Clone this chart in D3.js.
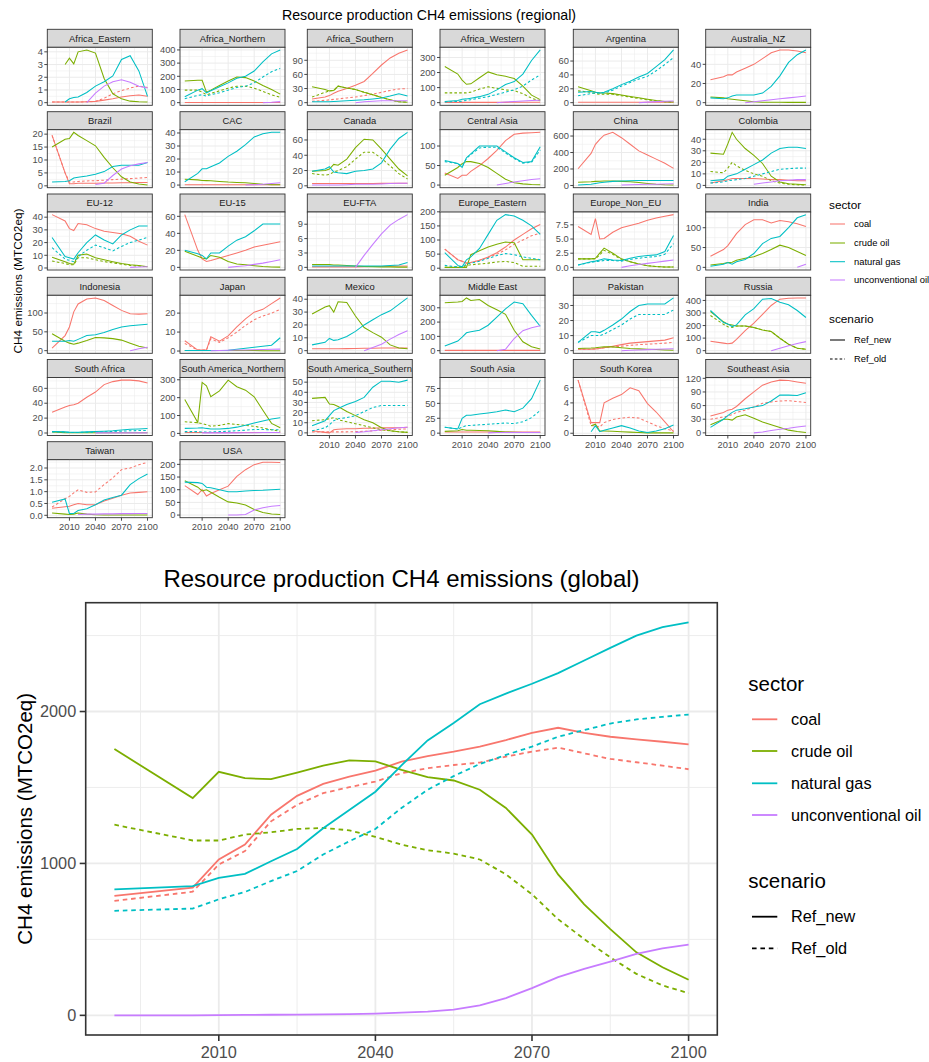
<!DOCTYPE html>
<html>
<head>
<meta charset="utf-8">
<title>Resource production CH4 emissions</title>
<script src="https://cdn.jsdelivr.net/npm/d3@7"></script>
<style>
    body { margin: 0; background: #ffffff; }
    svg { display: block; font-family: "Liberation Sans", Arial, Helvetica, sans-serif; }
</style>
</head>
<body>
<div id="chart-area"></div>
<script>

/*
 *  Data
 */

var years = [1990, 2005, 2010, 2015, 2020, 2025, 2030, 2035, 2040, 2045, 2050,
    2055, 2060, 2065, 2070, 2075, 2080, 2085, 2090, 2095, 2100];
var regionYears = [1990, 2005, 2010, 2015, 2020, 2030, 2040, 2050, 2060, 2070, 2080, 2090, 2100];

var sectors = ["coal", "crude oil", "natural gas", "unconventional oil"];
var scenarios = ["Ref_new", "Ref_old"];

var regions = ["Africa_Eastern", "Africa_Northern", "Africa_Southern", "Africa_Western", "Argentina",
    "Australia_NZ", "Brazil", "CAC", "Canada", "Central Asia", "China", "Colombia", "EU-12", "EU-15",
    "EU-FTA", "Europe_Eastern", "Europe_Non_EU", "India", "Indonesia", "Japan", "Mexico", "Middle East",
    "Pakistan", "Russia", "South Africa", "South America_Northern", "South America_Southern",
    "South Asia", "South Korea", "Southeast Asia", "Taiwan", "USA"];

var xTicks = [2010, 2040, 2070, 2100];
var globalYTicks = [0, 1000, 2000];

// global totals (MTCO2eq)
var globalCoalNew = [786, 841, 1026, 1124, 1321, 1445, 1524, 1572, 1611, 1670, 1707, 1736, 1769, 1812, 1860, 1893, 1860, 1834, 1817, 1801, 1784];
var globalCoalOld = [753, 814, 993, 1081, 1277, 1386, 1463, 1502, 1539, 1594, 1627, 1648, 1664, 1703, 1736, 1762, 1725, 1688, 1666, 1644, 1620];
var globalCrudeNew = [1753, 1430, 1603, 1561, 1555, 1598, 1644, 1679, 1672, 1616, 1568, 1546, 1485, 1365, 1190, 928, 731, 568, 415, 317, 234];
var globalCrudeOld = [1255, 1151, 1151, 1190, 1205, 1227, 1234, 1218, 1175, 1124, 1087, 1065, 1026, 928, 797, 633, 502, 382, 273, 197, 146];
var globalGasNew = [829, 851, 905, 931, 1014, 1095, 1232, 1352, 1472, 1646, 1810, 1925, 2048, 2118, 2183, 2253, 2336, 2419, 2500, 2555, 2587];
var globalGasOld = [688, 703, 764, 812, 884, 950, 1059, 1146, 1227, 1365, 1485, 1575, 1655, 1714, 1769, 1834, 1878, 1921, 1948, 1965, 1980];
var globalUnconvNew = [0, 0, 2, 3, 4, 5, 6, 8, 12, 18, 25, 38, 66, 114, 179, 251, 306, 354, 404, 441, 465];

// regional series, one array per region on regionYears (null = not produced)
var _ = null;

var regionCoalNew = {
    "Africa_Eastern": [0.05, 0.05, 0.05, 0.05, 0.05, 0.07, 0.1, 0.2, 0.3, 0.45, 0.55, 0.6, 0.5],
    "Africa_Northern": [2, 2, 2, 2, 2, 2, 2, 2, 2, 2, 2, 2, 2],
    "Africa_Southern": [8, 12, 15, 20, 24, 30, 37, 45, 62, 80, 95, 105, 112],
    "Africa_Western": [2, 2, 2, 2, 2, 2, 2, 2, 2, 3, 3, 3, 3],
    "Argentina": [0.5, 0.5, 0.5, 0.5, 0.5, 0.5, 0.5, 0.5, 0.5, 0.5, 0.5, 0.5, 0.5],
    "Australia_NZ": [24, 27, 29, 29, 32, 36, 40, 46, 52, 55, 55, 54, 52],
    "Brazil": [19.5, 5, 0.8, 0.8, 1.0, 1.0, 1.0, 1.1, 1.1, 1.2, 1.2, 1.3, 1.3],
    "CAC": [0.2, 0.2, 0.2, 0.2, 0.2, 0.2, 0.2, 0.2, 0.2, 0.2, 0.2, 0.2, 0.2],
    "Canada": [3, 3, 3, 3, 3, 3, 3, 3, 3, 3.2, 3.3, 3.5, 3.5],
    "Central Asia": [31, 17, 25, 25, 35, 50, 68, 89, 114, 130, 133, 134, 135],
    "China": [203, 389, 500, 560, 610, 645, 580, 500, 420, 370, 320, 270, 207],
    "Colombia": [2, 4, 5, 6, 6, 6, 6, 5.5, 5, 5, 4.5, 4, 4],
    "EU-12": [42, 37, 31, 29.5, 35, 34, 31, 29, 28, 27, 25, 21, 18],
    "EU-15": [62, 20, 10, 7, 8, 11, 14, 17, 20, 24, 26, 28, 30],
    "EU-FTA": [0.1, 0.1, 0.1, 0.1, 0.1, 0.1, 0.1, 0.15, 0.2, 0.2, 0.25, 0.3, 0.3],
    "Europe_Eastern": [68, 30, 25, 18, 20, 28, 40, 55, 75, 100, 120, 140, 155],
    "Europe_Non_EU": [7.2, 5.8, 8.6, 5.0, 5.1, 6.2, 7.0, 7.4, 7.8, 8.3, 8.7, 9.0, 9.3],
    "India": [28, 45, 55, 70, 85, 108, 120, 120, 112, 118, 115, 110, 103],
    "Indonesia": [7, 40, 63, 103, 124, 137, 140, 133, 120, 107, 98, 97, 98],
    "Japan": [5.4, 0.5, 0.5, 0.5, 7.5, 5.2, 8, 12.7, 17, 20.5, 22, 25, 28],
    "Mexico": [1.5, 1.5, 1.5, 1.5, 1.5, 1.6, 1.7, 1.8, 1.9, 2, 2, 2, 2],
    "Middle East": [2, 2, 2, 2, 2, 2, 2, 2, 2, 2, 2, 2, 2],
    "Pakistan": [1, 1, 1.2, 1.5, 2, 3, 4, 5, 5.5, 6, 6.5, 7, 8.5],
    "Russia": [75, 60, 55, 60, 90, 160, 220, 290, 360, 410, 418, 420, 420],
    "South Africa": [28, 35, 37, 38, 40, 48, 55, 65, 69, 71, 71, 70, 67],
    "South America_Northern": [5, 5, 5, 5, 5, 5, 5, 5, 5, 5, 5, 5, 5],
    "South America_Southern": [2, 0.5, 0, 3, 3.5, 4, 4, 4.5, 4.5, 5, 5, 5, 5.5],
    "South Asia": [2, 2, 2, 2, 2, 2, 2, 2, 2, 2, 2, 2, 2],
    "South Korea": [7, 1.4, 1.4, 1.4, 4.0, 4.6, 5.1, 6.0, 5.6, 3.9, 2.8, 1.5, 0.2],
    "Southeast Asia": [37, 45, 50, 52, 58, 75, 90, 105, 112, 116, 115, 112, 109],
    "Taiwan": [0.3, 0.36, 0.38, 0.45, 0.5, 0.45, 0.45, 0.6, 0.72, 0.85, 0.94, 0.97, 1.0],
    "USA": [116, 81, 100, 75, 85, 100, 114, 153, 179, 199, 208, 208, 207]
};

var regionCoalOld = {
    "Africa_Eastern": [0.05, 0.05, 0.05, 0.05, 0.05, 0.07, 0.1, 0.35, 0.7, 0.95, 1.15, 1.3, 1.2],
    "Africa_Southern": [3, 5, 6, 7, 8, 10, 12, 15, 18, 22, 26, 29, 30],
    "Brazil": [19.5, 5, 1.5, 1.5, 1.7, 1.9, 2.0, 2.2, 2.4, 2.6, 2.8, 3.0, 3.2],
    "Europe_Eastern": [68, 30, 25, 18, 20, 28, 38, 50, 65, 85, 100, 115, 125],
    "Japan": [4, 0.5, 0.5, 0.5, 6.5, 4.5, 7, 10, 13.5, 16.5, 18.5, 20, 22],
    "Pakistan": [1, 1, 1.2, 1.5, 2, 2.5, 3, 3.5, 4, 4.3, 4.6, 5, 5.5],
    "South America_Southern": [1, 1, 1, 1, 1, 1, 1.2, 1.5, 2, 2.5, 3, 3.5, 4],
    "South Korea": [7, 1.0, 1.0, 0.8, 1.4, 1.8, 2.0, 2.1, 2.0, 1.5, 1.0, 0.6, 0.3],
    "Southeast Asia": [30, 35, 37, 40, 45, 50, 57, 65, 68, 70, 71, 69, 67],
    "Taiwan": [0.35, 0.7, 0.8, 0.95, 1.08, 0.97, 0.99, 1.3, 1.58, 1.93, 2.0, 2.14, 2.24]
};

var regionCrudeNew = {
    "Africa_Eastern": [_, 3.0, 3.5, 3.05, 4.0, 4.15, 3.9, 1.9, 0.7, 0.3, 0.12, 0.07, 0.05],
    "Africa_Northern": [165, 170, 170, 80, 95, 130, 165, 195, 190, 165, 130, 100, 65],
    "Africa_Southern": [34, 28, 25, 26, 35, 31, 28, 22, 17, 11, 6, 2, 1],
    "Africa_Western": [240, 190, 150, 122, 125, 165, 204, 185, 175, 160, 110, 50, 20],
    "Argentina": [23, 17, 15, 14, 14, 13, 11, 9, 7, 5, 3, 1.5, 1],
    "Australia_NZ": [6, 5, 4, 3.5, 3, 2, 1, 0.5, 0.5, 0.4, 0.3, 0.3, 0.3],
    "Brazil": [15, 18, 18.3, 20.7, 19.5, 17.5, 15.5, 11, 7, 3.5, 1.5, 0.7, 0.3],
    "CAC": [4.5, 4, 3.5, 3.4, 3.3, 2.8, 2.3, 2, 1.8, 1.2, 0.6, 0.3, 0.2],
    "Canada": [19, 20, 22, 28, 27, 35, 50, 61, 60, 48, 35, 22, 13],
    "Central Asia": [25, 45, 55, 60, 60, 55, 45, 30, 15, 6, 3, 1.5, 1],
    "China": [40, 45, 50, 52, 55, 55, 50, 45, 35, 25, 15, 8, 5],
    "Colombia": [28, 27, 36, 46, 40, 32, 26, 19, 8, 3, 1.5, 1, 0.5],
    "EU-12": [8.5, 5, 3.5, 3, 10, 11, 8, 6.5, 5, 3.5, 2.5, 2, 1],
    "EU-15": [19, 13, 11, 10, 14, 12, 7, 4, 3, 2, 1, 0.5, 0.3],
    "EU-FTA": [0.6, 0.6, 0.6, 0.5, 0.5, 0.4, 0.3, 0.2, 0.15, 0.1, 0.1, 0.05, 0.05],
    "Europe_Eastern": [3, 3, 3, 3, 48, 62, 75, 85, 93, 90, 30, 30, 30],
    "Europe_Non_EU": [1.5, 1.5, 1.6, 2.5, 3.4, 2.5, 1.5, 1.0, 0.6, 0.3, 0.15, 0.05, 0.05],
    "India": [6, 10, 12, 13, 18, 23, 27, 35, 45, 56, 50, 40, 30],
    "Indonesia": [45, 25, 20, 17, 20, 27, 35, 34, 32, 28, 20, 12, 7],
    "Japan": [0.3, 0.3, 0.3, 0.3, 0.3, 0.3, 0.3, 0.3, 0.3, 0.25, 0.2, 0.2, 0.2],
    "Mexico": [28.5, 34, 35, 30, 38, 37.5, 27, 18, 14, 10.5, 4.5, 2, 1.5],
    "Middle East": [335, 340, 344, 369, 351, 358, 316, 286, 254, 143, 62, 28, 12],
    "Pakistan": [1.5, 1.8, 2, 2.3, 2.5, 2.5, 2, 1.5, 1.2, 1, 0.8, 0.5, 0.3],
    "Russia": [312, 230, 210, 205, 197, 197, 184, 165, 152, 99, 51, 19, 11],
    "South Africa": [1.5, 0.5, 0.3, 0.3, 0.3, 0.3, 0.3, 0.3, 0.3, 0.3, 0.3, 0.3, 0.3],
    "South America_Northern": [190, 61, 285, 266, 205, 238, 298, 261, 242, 205, 130, 56, 32],
    "South America_Southern": [34, 35, 28.5, 28, 26, 21, 17, 13, 10, 5, 2, 1, 0.5],
    "South Asia": [3, 4, 6, 5, 5, 4.5, 4, 3, 2, 1.5, 1, 1, 1],
    "South Korea": [_, 1.0, 1.2, 0.3, 0.3, 0.25, 0.2, 0.15, 0.1, 0.05, 0.05, 0.05, 0.05],
    "Southeast Asia": [18, 30, 30, 28, 35, 40, 32, 24, 18, 12, 6, 3, 1],
    "Taiwan": [0.1, 0.05, 0.03, 0.05, 0.1, 0.05, 0.02, 0.01, 0.01, 0.01, 0.01, 0.01, 0.01],
    "USA": [135, 110, 95, 100, 90, 70, 52, 48, 40, 22, 10, 4, 2]
};

var regionCrudeOld = {
    "Africa_Northern": [95, 95, 80, 60, 70, 90, 110, 125, 125, 110, 85, 60, 40],
    "Africa_Southern": [12, 22, 25, 26, 35, 31, 28, 22, 17, 11, 6, 2, 1],
    "Africa_Western": [65, 65, 65, 65, 70, 90, 105, 95, 85, 80, 60, 30, 12],
    "Argentina": [17, 15, 13, 12, 12, 12, 10, 8, 6, 4, 2.5, 1.5, 1],
    "Canada": [16, 14, 15, 18, 20, 25, 35, 44, 44, 36, 26, 16, 9],
    "Colombia": [12, 11, 15, 20, 17, 13, 10, 8, 4, 2, 1, 0.5, 0.3],
    "EU-12": [5.5, 3.5, 2.5, 2.5, 8, 8, 6.5, 5, 4, 3, 2, 1.5, 1],
    "Europe_Eastern": [3, 3, 3, 10, 12, 15, 18, 22, 24, 20, 7, 7, 7],
    "Europe_Non_EU": [1.5, 1.5, 1.5, 2.2, 3.0, 2.3, 1.4, 1.0, 0.6, 0.3, 0.15, 0.05, 0.05],
    "Russia": [280, 210, 190, 185, 197, 197, 184, 165, 152, 99, 51, 19, 11],
    "South America_Northern": [65, 60, 55, 48, 40, 45, 55, 50, 45, 40, 30, 20, 12],
    "South America_Southern": [12, 13, 14, 15, 13, 11, 9, 7, 5, 3, 2, 1, 0.5]
};

var regionGasNew = {
    "Africa_Eastern": [_, 0.05, 0.3, 0.4, 0.45, 0.8, 1.3, 1.65, 2.1, 3.4, 3.7, 2.5, 0.5],
    "Africa_Northern": [45, 95, 106, 75, 90, 120, 150, 185, 200, 240, 310, 370, 400],
    "Africa_Southern": [2, 2, 2, 2.5, 3, 4, 5, 6, 8, 10, 14, 19, 14],
    "Africa_Western": [8, 15, 22, 25, 30, 40, 55, 85, 120, 140, 190, 280, 350],
    "Argentina": [15, 16, 15, 14, 15, 20, 26, 31, 37, 42, 52, 62, 76],
    "Australia_NZ": [5, 4, 5, 7, 8, 8, 8, 10, 17, 28, 42, 50, 55],
    "Brazil": [1.5, 1.7, 2, 3, 3.3, 3.8, 4.5, 5.5, 7.5, 8, 8, 8, 9],
    "CAC": [2.5, 9, 12.5, 12.5, 14, 17, 22, 26, 31, 37, 39.5, 40.5, 40.5],
    "Canada": [19, 22, 25, 18, 17, 16, 19, 20, 22, 30, 48, 62, 70],
    "Central Asia": [63, 55, 45, 70, 80, 100, 100, 100, 85, 70, 58, 60, 98],
    "China": [5, 15, 25, 32, 40, 50, 55, 58, 60, 60, 60, 60, 60],
    "Colombia": [4, 5, 8, 9, 10, 14, 18, 22, 28, 32, 33, 33, 32],
    "EU-12": [24, 9, 8, 7, 12, 20, 26, 22, 19, 26, 30, 33, 33],
    "EU-15": [20, 16, 14, 10, 17, 17, 25, 32, 36, 43, 51, 51, 51],
    "EU-FTA": [0.3, 0.3, 0.3, 0.3, 0.3, 0.3, 0.3, 0.3, 0.3, 0.3, 0.4, 0.5, 1.0],
    "Europe_Eastern": [55, 10, 5, 30, 40, 70, 120, 170, 190, 185, 170, 150, 120],
    "Europe_Non_EU": [0.4, 1.0, 1.1, 1.3, 1.5, 1.3, 1.2, 1.6, 1.9, 2.1, 2.2, 2.8, 5.6],
    "India": [3, 8, 12, 8, 14, 20, 35, 60, 73, 78, 100, 125, 133],
    "Indonesia": [25, 25, 27, 25, 30, 40, 42, 48, 56, 63, 66, 68, 70],
    "Japan": [0.3, 0.3, 0.3, 0.3, 0.3, 0.3, 0.4, 1, 1.5, 2, 2.5, 3.1, 7],
    "Mexico": [4.5, 6.5, 9.5, 8, 8.5, 11, 15, 20, 24, 28, 31, 36, 41],
    "Middle East": [32, 67, 95, 125, 132, 143, 178, 235, 293, 340, 328, 247, 171],
    "Pakistan": [5.5, 12.5, 12.5, 12, 13.5, 17, 21, 26, 30, 31, 31, 31, 35],
    "Russia": [320, 224, 213, 192, 205, 285, 335, 410, 415, 385, 365, 320, 264],
    "South Africa": [2, 1.5, 1, 1, 1, 1.5, 2, 2.5, 3, 4, 5, 5.5, 6],
    "South America_Northern": [28, 30, 32, 28, 25, 25, 28, 35, 45, 58, 70, 80, 88],
    "South America_Southern": [7, 12, 17, 22, 24, 28, 31, 35, 45, 51, 51, 50, 52],
    "South Asia": [10, 7, 25, 30, 30, 32, 34, 36, 39, 36, 42, 58, 89],
    "South Korea": [_, 0.2, 1.0, 0.2, 0.4, 0.7, 1.0, 0.7, 0.3, 0.1, 0.3, 0.6, 1.1],
    "Southeast Asia": [12, 30, 38, 45, 50, 53, 57, 60, 70, 83, 83, 82, 88],
    "Taiwan": [0.55, 0.69, 0.07, 0.08, 0.2, 0.28, 0.45, 0.65, 0.75, 0.85, 1.3, 1.55, 1.75],
    "USA": [130, 128, 125, 110, 108, 100, 92, 92, 95, 97, 98, 100, 102]
};

var regionGasOld = {
    "Africa_Northern": [30, 55, 60, 50, 60, 75, 95, 115, 125, 150, 195, 235, 260],
    "Africa_Western": [5, 8, 10, 15, 20, 30, 40, 55, 70, 85, 110, 150, 185],
    "Argentina": [10, 13, 14, 14, 14, 18, 24, 29, 34, 38, 46, 55, 65],
    "Central Asia": [60, 55, 48, 68, 78, 95, 97, 97, 82, 68, 56, 58, 90],
    "Colombia": [2, 3, 4, 4.5, 5, 6, 8, 10, 12, 14, 14.5, 15, 15],
    "EU-12": [16, 7, 6, 5, 9, 14, 18, 16, 13.5, 17, 20, 22, 24],
    "Europe_Eastern": [10, 5, 5, 15, 18, 25, 35, 45, 52, 48, 40, 35, 30],
    "Europe_Non_EU": [0.4, 0.9, 1.0, 1.1, 1.2, 1.2, 1.1, 1.4, 1.6, 1.8, 1.9, 2.3, 4.2],
    "Pakistan": [5.5, 10, 10, 10, 11, 14, 17, 21, 24, 24, 24, 24, 27],
    "South Africa": [1.5, 1.2, 0.8, 0.8, 0.8, 1, 1.3, 1.6, 2, 2.5, 3, 3.3, 3.5],
    "South America_Northern": [10, 10, 8, 8, 8, 10, 12, 15, 18, 22, 22, 20, 20],
    "South America_Southern": [2, 5, 8, 12, 14, 15, 17, 21, 25, 27, 27, 27, 27],
    "South Asia": [10, 7, 10, 13, 13, 14, 15, 16, 17, 16, 19, 26, 38]
};

var regionUnconvNew = {
    "Africa_Eastern": [_, _, _, _, _, 0.0, 0.75, 1.3, 1.65, 1.8, 1.6, 1.3, 1.15],
    "Africa_Northern": [_, _, _, _, _, _, _, _, _, _, 0, 3, 8],
    "Africa_Southern": [_, _, _, _, _, _, 0, 2, 3, 4, 4, 4, 4],
    "Africa_Western": [_, _, _, _, _, _, _, 0, 4, 8, 11, 14, 16],
    "Argentina": [_, _, _, _, _, _, _, _, 0, 0.8, 1.5, 2, 2.5],
    "Australia_NZ": [_, _, _, _, _, 0, 1, 2, 3, 4, 5, 6, 7],
    "Brazil": [_, _, _, _, _, _, 0.5, 1, 4, 6.5, 7.8, 8.5, 9],
    "CAC": [_, _, _, _, _, _, _, _, 0, 0.3, 0.7, 1.2, 1.8],
    "Canada": [1, 1, 1, 1, 1, 1.5, 2, 2, 2, 2.5, 3, 3.5, 3.5],
    "Central Asia": [_, _, _, _, _, _, _, 0, 4, 8, 11, 14, 16],
    "China": [_, _, _, _, _, _, 5, 8, 11, 14, 16, 18, 20],
    "Colombia": [_, _, _, _, _, _, 1, 2, 3, 4, 4.5, 5, 5],
    "EU-12": [_, _, _, _, _, _, _, _, _, _, 0.5, 0.8, 1],
    "EU-15": [_, _, _, _, _, _, 0, 1, 2, 3.5, 5, 7, 9],
    "EU-FTA": [_, _, _, _, _, _, 0, 2.5, 4.8, 7, 8.8, 10, 11],
    "Europe_Non_EU": [_, _, _, _, _, _, 0, 0.3, 0.5, 0.7, 0.9, 1.1, 1.3],
    "India": [_, _, _, _, _, _, _, _, _, _, _, 0, 8],
    "Indonesia": [_, _, _, _, _, _, _, _, _, _, 0, 5, 9],
    "Japan": [_, _, _, _, 0.2, 0.3, 0.4, 0.5, 0.6, 0.7, 0.8, 0.9, 1.0],
    "Mexico": [_, _, _, _, _, _, _, 0, 2.5, 5, 9, 12.5, 15.5],
    "Middle East": [_, _, _, _, _, _, _, 0, 10, 85, 140, 160, 175],
    "Pakistan": [_, _, _, _, _, _, 0, 0.3, 0.5, 0.7, 0.9, 1.1, 1.3],
    "Russia": [_, _, _, _, _, _, _, _, 0, 20, 40, 57, 72],
    "South Africa": [_, _, _, _, _, _, 0.2, 0.2, 0.2, 0.2, 0.2, 0.2, 0.2],
    "South America_Northern": [_, _, 3, 3, 3, 3, 3, 3, 4, 4, 5, 5, 5],
    "South America_Southern": [_, _, _, _, _, _, 0.5, 1, 2, 3, 4, 5, 5.5],
    "South Asia": [_, _, _, _, _, _, 0.5, 1, 1, 1, 1, 1, 1],
    "Southeast Asia": [_, _, _, _, _, _, 0, 2, 5, 8, 10, 13, 15],
    "Taiwan": [_, _, _, _, 0.03, 0.05, 0.05, 0.06, 0.06, 0.07, 0.07, 0.08, 0.08],
    "USA": [_, _, _, _, _, _, 0, 0, 2, 20, 29, 35, 38]
};

// y tick labels of every facet
var regionTicks = {
    "Africa_Eastern": [0, 1, 2, 3, 4],
    "Africa_Northern": [0, 100, 200, 300, 400],
    "Africa_Southern": [0, 30, 60, 90],
    "Africa_Western": [0, 100, 200, 300],
    "Argentina": [0, 20, 40, 60],
    "Australia_NZ": [0, 20, 40],
    "Brazil": [0, 5, 10, 15, 20],
    "CAC": [0, 10, 20, 30, 40],
    "Canada": [0, 20, 40, 60],
    "Central Asia": [0, 50, 100],
    "China": [0, 200, 400, 600],
    "Colombia": [0, 10, 20, 30, 40],
    "EU-12": [0, 10, 20, 30, 40],
    "EU-15": [0, 20, 40, 60],
    "EU-FTA": [0, 3, 6, 9],
    "Europe_Eastern": [0, 50, 100, 150, 200],
    "Europe_Non_EU": [0, 2.5, 5, 7.5],
    "India": [0, 50, 100],
    "Indonesia": [0, 50, 100],
    "Japan": [0, 10, 20],
    "Mexico": [0, 10, 20, 30, 40],
    "Middle East": [0, 100, 200, 300],
    "Pakistan": [0, 10, 20, 30],
    "Russia": [0, 100, 200, 300, 400],
    "South Africa": [0, 20, 40, 60],
    "South America_Northern": [0, 100, 200, 300],
    "South America_Southern": [0, 10, 20, 30, 40, 50],
    "South Asia": [0, 25, 50, 75],
    "South Korea": [0, 2, 4, 6],
    "Southeast Asia": [0, 30, 60, 90, 120],
    "Taiwan": [0, 0.5, 1, 1.5, 2],
    "USA": [0, 50, 100, 150, 200]
};


/*
 *  Shared helpers
 */

var colorScale = d3.scaleOrdinal()
    .domain(sectors)
    .range(["#F8766D", "#7CAE00", "#00BFC4", "#C77CFF"]);

var gridColor = "#EBEBEB";
var borderColor = "#333333";
var tickTextColor = "#4D4D4D";

function expand(extent) {
    var pad = (extent[1] - extent[0]) * 0.05;
    return [extent[0] - pad, extent[1] + pad];
}

function minorBreaks(ticks, domain) {
    var step = ticks[1] - ticks[0];
    var ext = [ticks[0] - step].concat(ticks, [ticks[ticks.length - 1] + step]);
    var out = [];
    for (var i = 0; i < ext.length - 1; i++) {
        var m = (ext[i] + ext[i + 1]) / 2;
        if (m >= domain[0] && m <= domain[1]) out.push(m);
    }
    return out;
}

function tickFormat(ticks) {
    var dec = d3.max(ticks, function(t) {
        var s = String(t);
        return s.indexOf(".") < 0 ? 0 : s.length - s.indexOf(".") - 1;
    });
    return d3.format("." + dec + "f");
}

var xDomain = expand(d3.extent(years));

var svg = d3.select("#chart-area").append("svg")
    .attr("width", 929)
    .attr("height", 1062);


/*
 *  FacetGrid - regional small multiples
 */

FacetGrid = function(_svg) {
    this.svg = _svg;
    this.colLeft = [47.3, 180, 307.3, 440, 573.3, 705.7];
    this.rowTop = [29.3, 111.7, 194, 277.3, 359.5, 441.7];
    this.panelW = 105;
    this.stripH = 18;
    this.panelH = 58;
    this.initVis();
};

FacetGrid.prototype.initVis = function() {
    var vis = this;

    vis.sources = [
        { sector: "coal", scenario: "Ref_new", table: regionCoalNew },
        { sector: "coal", scenario: "Ref_old", table: regionCoalOld },
        { sector: "crude oil", scenario: "Ref_new", table: regionCrudeNew },
        { sector: "crude oil", scenario: "Ref_old", table: regionCrudeOld },
        { sector: "natural gas", scenario: "Ref_new", table: regionGasNew },
        { sector: "natural gas", scenario: "Ref_old", table: regionGasOld },
        { sector: "unconventional oil", scenario: "Ref_new", table: regionUnconvNew }
    ];

    vis.x = d3.scaleLinear().domain(xDomain).range([0, vis.panelW]);

    vis.svg.append("text")
        .attr("x", (vis.colLeft[0] + vis.colLeft[5] + vis.panelW) / 2)
        .attr("y", 20)
        .attr("text-anchor", "middle")
        .style("font-size", "14.2px")
        .style("fill", "#000")
        .text("Resource production CH4 emissions (regional)");

    vis.svg.append("text")
        .attr("transform", "translate(21.5,281) rotate(-90)")
        .attr("text-anchor", "middle")
        .style("font-size", "11.8px")
        .style("fill", "#000")
        .text("CH4 emissions (MTCO2eq)");

    vis.wrangleData();
};

FacetGrid.prototype.wrangleData = function() {
    var vis = this;

    vis.displayData = regions.map(function(r, i) {
        var series = vis.sources.filter(function(s) { return s.table[r]; })
            .map(function(s) {
                return {
                    sector: s.sector,
                    scenario: s.scenario,
                    points: regionYears.map(function(y, j) { return { year: y, value: s.table[r][j] }; })
                };
            });
        var all = [];
        series.forEach(function(s) {
            s.points.forEach(function(p) { if (p.value !== null) all.push(p.value); });
        });
        return { region: r, col: i % 6, row: Math.floor(i / 6), series: series, extent: d3.extent(all) };
    });

    vis.updateVis();
};

FacetGrid.prototype.updateVis = function() {
    var vis = this;
    var lastRow = {};
    vis.displayData.forEach(function(d) { lastRow[d.col] = Math.max(lastRow[d.col] || 0, d.row); });

    vis.displayData.forEach(function(d, i) {
        var left = vis.colLeft[d.col];
        var top = vis.rowTop[d.row];
        var domain = expand(d.extent);
        var ticks = regionTicks[d.region];
        var y = d3.scaleLinear().domain(domain).range([vis.panelH, 0]);

        // strip
        var strip = vis.svg.append("g").attr("transform", "translate(" + left + "," + top + ")");
        strip.append("clipPath").attr("id", "strip-clip-" + i)
            .append("rect").attr("width", vis.panelW).attr("height", vis.stripH);
        strip.append("rect")
            .attr("width", vis.panelW).attr("height", vis.stripH)
            .style("fill", "#D9D9D9").style("stroke", borderColor).style("stroke-width", 0.9);
        strip.append("text")
            .attr("clip-path", "url(#strip-clip-" + i + ")")
            .attr("x", vis.panelW / 2).attr("y", vis.stripH / 2)
            .attr("dy", "0.35em")
            .attr("text-anchor", "middle")
            .style("font-size", "9.4px").style("fill", "#1A1A1A")
            .text(d.region);

        var g = vis.svg.append("g")
            .attr("transform", "translate(" + left + "," + (top + vis.stripH) + ")");

        g.append("rect").attr("width", vis.panelW).attr("height", vis.panelH).style("fill", "#fff");

        // grid
        g.selectAll(".ymin").data(minorBreaks(ticks, domain)).enter().append("line")
            .attr("x1", 0).attr("x2", vis.panelW)
            .attr("y1", function(t) { return y(t); }).attr("y2", function(t) { return y(t); })
            .style("stroke", gridColor).style("stroke-width", 0.5);
        g.selectAll(".xmin").data(minorBreaks(xTicks, xDomain)).enter().append("line")
            .attr("y1", 0).attr("y2", vis.panelH)
            .attr("x1", function(t) { return vis.x(t); }).attr("x2", function(t) { return vis.x(t); })
            .style("stroke", gridColor).style("stroke-width", 0.5);
        g.selectAll(".ymaj").data(ticks).enter().append("line")
            .attr("x1", 0).attr("x2", vis.panelW)
            .attr("y1", function(t) { return y(t); }).attr("y2", function(t) { return y(t); })
            .style("stroke", gridColor).style("stroke-width", 1);
        g.selectAll(".xmaj").data(xTicks).enter().append("line")
            .attr("y1", 0).attr("y2", vis.panelH)
            .attr("x1", function(t) { return vis.x(t); }).attr("x2", function(t) { return vis.x(t); })
            .style("stroke", gridColor).style("stroke-width", 1);

        // lines
        var line = d3.line()
            .defined(function(p) { return p.value !== null; })
            .x(function(p) { return vis.x(p.year); })
            .y(function(p) { return y(p.value); });

        g.selectAll(".series").data(d.series).enter().append("path")
            .attr("d", function(s) { return line(s.points); })
            .style("fill", "none")
            .style("stroke", function(s) { return colorScale(s.sector); })
            .style("stroke-width", 1.05)
            .style("stroke-dasharray", function(s) { return s.scenario === "Ref_old" ? "2.6,2.2" : null; });

        g.append("rect").attr("width", vis.panelW).attr("height", vis.panelH)
            .style("fill", "none").style("stroke", borderColor).style("stroke-width", 0.9);

        // y axis
        var fmt = tickFormat(ticks);
        g.selectAll(".ytick").data(ticks).enter().append("line")
            .attr("x1", -3).attr("x2", 0)
            .attr("y1", function(t) { return y(t); }).attr("y2", function(t) { return y(t); })
            .style("stroke", borderColor).style("stroke-width", 0.9);
        g.selectAll(".ylab").data(ticks).enter().append("text")
            .attr("x", -4.5).attr("y", function(t) { return y(t); })
            .attr("dy", "0.35em").attr("text-anchor", "end")
            .style("font-size", "9.3px").style("fill", tickTextColor)
            .text(function(t) { return fmt(t); });

        // x axis only under the last panel of a column
        if (d.row === lastRow[d.col]) {
            g.selectAll(".xtick").data(xTicks).enter().append("line")
                .attr("x1", function(t) { return vis.x(t); }).attr("x2", function(t) { return vis.x(t); })
                .attr("y1", vis.panelH).attr("y2", vis.panelH + 3)
                .style("stroke", borderColor).style("stroke-width", 0.9);
            g.selectAll(".xlab").data(xTicks).enter().append("text")
                .attr("x", function(t) { return vis.x(t); })
                .attr("y", vis.panelH + 12.8)
                .attr("text-anchor", "middle")
                .style("font-size", "9.3px").style("fill", tickTextColor)
                .text(function(t) { return t; });
        }
    });

    drawLegend(vis.svg, { x: 829, sectorTitleY: 209, sectorY: [224, 243, 261.7, 280], scenarioTitleY: 323,
        scenarioY: [340, 359], keyX: [830, 845], labelX: 854, titleSize: 11.8, textSize: 9.4,
        lineWidth: 1.05, dash: "2.6,2.2" });
};


/*
 *  GlobalChart - world total
 */

GlobalChart = function(_svg) {
    this.svg = _svg;
    this.margin = { left: 85.7, top: 602.7 };
    this.width = 717.3 - 85.7;
    this.height = 1035 - 602.7;
    this.initVis();
};

GlobalChart.prototype.initVis = function() {
    var vis = this;

    vis.series = [
        { sector: "coal", scenario: "Ref_new", values: globalCoalNew },
        { sector: "coal", scenario: "Ref_old", values: globalCoalOld },
        { sector: "crude oil", scenario: "Ref_new", values: globalCrudeNew },
        { sector: "crude oil", scenario: "Ref_old", values: globalCrudeOld },
        { sector: "natural gas", scenario: "Ref_new", values: globalGasNew },
        { sector: "natural gas", scenario: "Ref_old", values: globalGasOld },
        { sector: "unconventional oil", scenario: "Ref_new", values: globalUnconvNew }
    ];

    vis.g = vis.svg.append("g")
        .attr("transform", "translate(" + vis.margin.left + "," + vis.margin.top + ")");

    vis.x = d3.scaleLinear().domain(xDomain).range([0, vis.width]);
    var all = [];
    vis.series.forEach(function(s) { all = all.concat(s.values); });
    vis.yDomain = expand(d3.extent(all));
    vis.y = d3.scaleLinear().domain(vis.yDomain).range([vis.height, 0]);

    vis.svg.append("text")
        .attr("x", vis.margin.left + vis.width / 2)
        .attr("y", 587)
        .attr("text-anchor", "middle")
        .style("font-size", "24px").style("fill", "#000")
        .text("Resource production CH4 emissions (global)");

    vis.svg.append("text")
        .attr("transform", "translate(31.5," + (vis.margin.top + vis.height / 2) + ") rotate(-90)")
        .attr("text-anchor", "middle")
        .style("font-size", "20.5px").style("fill", "#000")
        .text("CH4 emissions (MTCO2eq)");

    vis.updateVis();
};

GlobalChart.prototype.updateVis = function() {
    var vis = this;

    vis.g.append("rect").attr("width", vis.width).attr("height", vis.height).style("fill", "#fff");

    vis.g.selectAll(".ymin").data(minorBreaks(globalYTicks, vis.yDomain)).enter().append("line")
        .attr("x1", 0).attr("x2", vis.width)
        .attr("y1", function(t) { return vis.y(t); }).attr("y2", function(t) { return vis.y(t); })
        .style("stroke", gridColor).style("stroke-width", 0.9);
    vis.g.selectAll(".xmin").data(minorBreaks(xTicks, xDomain)).enter().append("line")
        .attr("y1", 0).attr("y2", vis.height)
        .attr("x1", function(t) { return vis.x(t); }).attr("x2", function(t) { return vis.x(t); })
        .style("stroke", gridColor).style("stroke-width", 0.9);
    vis.g.selectAll(".ymaj").data(globalYTicks).enter().append("line")
        .attr("x1", 0).attr("x2", vis.width)
        .attr("y1", function(t) { return vis.y(t); }).attr("y2", function(t) { return vis.y(t); })
        .style("stroke", gridColor).style("stroke-width", 1.8);
    vis.g.selectAll(".xmaj").data(xTicks).enter().append("line")
        .attr("y1", 0).attr("y2", vis.height)
        .attr("x1", function(t) { return vis.x(t); }).attr("x2", function(t) { return vis.x(t); })
        .style("stroke", gridColor).style("stroke-width", 1.8);

    var line = d3.line()
        .x(function(p, i) { return vis.x(years[i]); })
        .y(function(p) { return vis.y(p); });

    vis.g.selectAll(".series").data(vis.series).enter().append("path")
        .attr("d", function(s) { return line(s.values); })
        .style("fill", "none")
        .style("stroke", function(s) { return colorScale(s.sector); })
        .style("stroke-width", 1.8)
        .style("stroke-dasharray", function(s) { return s.scenario === "Ref_old" ? "4.6,3.8" : null; });

    vis.g.append("rect").attr("width", vis.width).attr("height", vis.height)
        .style("fill", "none").style("stroke", borderColor).style("stroke-width", 1.6);

    vis.g.selectAll(".ytick").data(globalYTicks).enter().append("line")
        .attr("x1", -6).attr("x2", 0)
        .attr("y1", function(t) { return vis.y(t); }).attr("y2", function(t) { return vis.y(t); })
        .style("stroke", borderColor).style("stroke-width", 1.6);
    vis.g.selectAll(".ylab").data(globalYTicks).enter().append("text")
        .attr("x", -9.5).attr("y", function(t) { return vis.y(t); })
        .attr("dy", "0.35em").attr("text-anchor", "end")
        .style("font-size", "16.3px").style("fill", tickTextColor)
        .text(function(t) { return t; });

    vis.g.selectAll(".xtick").data(xTicks).enter().append("line")
        .attr("x1", function(t) { return vis.x(t); }).attr("x2", function(t) { return vis.x(t); })
        .attr("y1", vis.height).attr("y2", vis.height + 6)
        .style("stroke", borderColor).style("stroke-width", 1.6);
    vis.g.selectAll(".xlab").data(xTicks).enter().append("text")
        .attr("x", function(t) { return vis.x(t); })
        .attr("y", vis.height + 23)
        .attr("text-anchor", "middle")
        .style("font-size", "16.3px").style("fill", tickTextColor)
        .text(function(t) { return t; });

    drawLegend(vis.svg, { x: 748.3, sectorTitleY: 691, sectorY: [719.3, 751, 783.3, 815], scenarioTitleY: 888,
        scenarioY: [916.7, 948.3], keyX: [752, 777.3], labelX: 791, titleSize: 20.5, textSize: 16.3,
        lineWidth: 1.8, dash: "4.6,3.8" });
};


/*
 *  Legend (sector colour + scenario linetype)
 */

function drawLegend(parent, opt) {
    var g = parent.append("g");

    g.append("text").attr("x", opt.x).attr("y", opt.sectorTitleY)
        .style("font-size", opt.titleSize + "px").style("fill", "#000").text("sector");

    sectors.forEach(function(s, i) {
        g.append("line")
            .attr("x1", opt.keyX[0]).attr("x2", opt.keyX[1])
            .attr("y1", opt.sectorY[i]).attr("y2", opt.sectorY[i])
            .style("stroke", colorScale(s)).style("stroke-width", opt.lineWidth);
        g.append("text").attr("x", opt.labelX).attr("y", opt.sectorY[i]).attr("dy", "0.35em")
            .style("font-size", opt.textSize + "px").style("fill", "#000").text(s);
    });

    g.append("text").attr("x", opt.x).attr("y", opt.scenarioTitleY)
        .style("font-size", opt.titleSize + "px").style("fill", "#000").text("scenario");

    scenarios.forEach(function(s, i) {
        g.append("line")
            .attr("x1", opt.keyX[0]).attr("x2", opt.keyX[1])
            .attr("y1", opt.scenarioY[i]).attr("y2", opt.scenarioY[i])
            .style("stroke", "#000").style("stroke-width", opt.lineWidth)
            .style("stroke-dasharray", s === "Ref_old" ? opt.dash : null);
        g.append("text").attr("x", opt.labelX).attr("y", opt.scenarioY[i]).attr("dy", "0.35em")
            .style("font-size", opt.textSize + "px").style("fill", "#000").text(s);
    });
}


new FacetGrid(svg);
new GlobalChart(svg);

</script>
</body>
</html>
